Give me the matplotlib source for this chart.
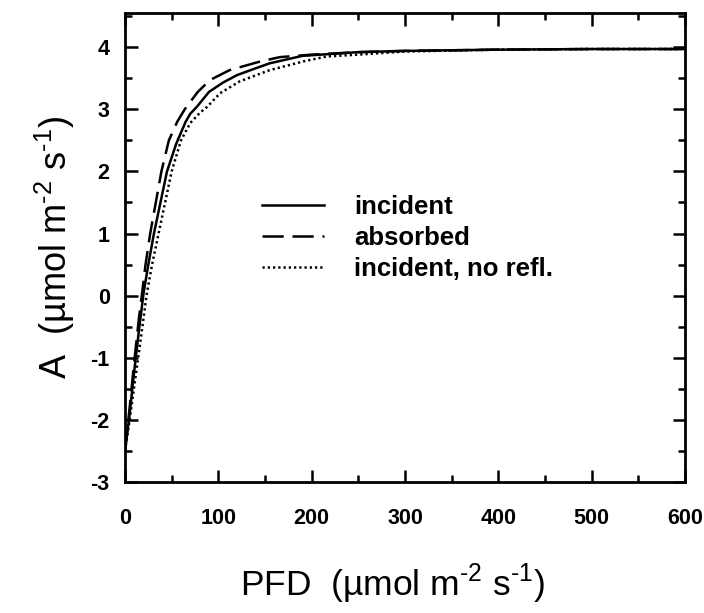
import matplotlib
matplotlib.use("Agg")
import matplotlib.pyplot as plt
from matplotlib.ticker import MultipleLocator

plt.rcParams['font.family'] = ['Liberation Sans', 'DejaVu Sans']
plt.rcParams['mathtext.fontset'] = 'custom'
plt.rcParams['mathtext.rm'] = 'Liberation Sans'
plt.rcParams['axes.unicode_minus'] = False

# Data
x_incident = [0, 5, 10, 15, 20, 25, 31, 38, 45, 55, 65, 70, 77, 90, 105, 120, 140, 155, 190, 250, 300, 400, 500, 600]
y_incident = [-2.5, -1.9, -1.2, -0.55, 0.05, 0.5, 1.0, 1.5, 2.0, 2.45, 2.8, 2.93, 3.04, 3.28, 3.43, 3.55, 3.66, 3.74, 3.86, 3.92, 3.94, 3.96, 3.97, 3.97]

x_absorbed = [0, 5, 10, 15, 18, 22, 27, 33, 39, 47, 56, 64, 78, 91, 112, 145, 166, 200, 250, 300, 400, 500, 600]
y_absorbed = [-2.5, -1.8, -1.05, -0.35, 0.0, 0.5, 1.0, 1.5, 2.0, 2.5, 2.8, 3.0, 3.28, 3.47, 3.63, 3.77, 3.84, 3.88, 3.92, 3.94, 3.96, 3.97, 3.97]

x_norefl = [0, 5, 10, 15, 20, 23, 29, 36, 43, 50, 60, 70, 80, 88, 102, 123, 155, 191, 216, 250, 300, 400, 500, 600]
y_norefl = [-2.5, -2.0, -1.45, -0.9, -0.35, 0.0, 0.5, 1.0, 1.5, 2.0, 2.5, 2.78, 2.94, 3.04, 3.26, 3.45, 3.63, 3.77, 3.85, 3.88, 3.93, 3.96, 3.97, 3.97]

labels = ['incident', 'absorbed', 'incident, no refl.']
x_ticks = [0, 100, 200, 300, 400, 500, 600]
y_ticks = [-3, -2, -1, 0, 1, 2, 3, 4]

fig = plt.figure(figsize=(7.04, 6.13), dpi=100)
ax = fig.add_axes([125/704, 1-482/613, (685-125)/704, (482-13)/613])

lw = 1.8
ax.plot(x_incident, y_incident, color='black', lw=lw, linestyle='-', label=labels[0])
ax.plot(x_absorbed, y_absorbed, color='black', lw=lw, linestyle=(0, (8.5, 3.5)), label=labels[1])
ax.plot(x_norefl, y_norefl, color='black', lw=lw, linestyle=(0, (0.9, 1.2)), label=labels[2])

ax.set_xlim(0, 600)
ax.set_ylim(-3, 4.55)
ax.set_xticks(x_ticks)
ax.set_yticks(y_ticks)
ax.xaxis.set_minor_locator(MultipleLocator(50))
ax.yaxis.set_minor_locator(MultipleLocator(0.5))
ax.tick_params(which='both', direction='in', top=True, right=True, width=1.8)
ax.tick_params(which='major', length=9, labelsize=15.5)
ax.tick_params(axis='x', which='major', pad=19)
ax.tick_params(axis='y', which='major', pad=11)
ax.tick_params(which='minor', length=5)
for lab in ax.get_xticklabels() + ax.get_yticklabels():
    lab.set_fontweight('bold')
for s in ax.spines.values():
    s.set_linewidth(2.0)

hy = '\u2010'
ax.set_xlabel('PFD  (µmol m$^{\\mathregular{' + hy + '2}}$ s$^{\\mathregular{' + hy + '1}}$)', fontsize=25.5)
ax.xaxis.set_label_coords((392-125)/560, -(562-482)/469)
ax.set_ylabel('A  (µmol m$^{\\mathregular{' + hy + '2}}$ s$^{\\mathregular{' + hy + '1}}$)', fontsize=26, labelpad=10)

leg = ax.legend(loc='upper left', bbox_to_anchor=((249-125)/560, (482-182)/469),
                frameon=False, prop={'weight': 'bold', 'size': 18.5},
                handlelength=2.4, handletextpad=1.2, labelspacing=0.28, borderpad=0)

fig.savefig('out.png', dpi=100)
